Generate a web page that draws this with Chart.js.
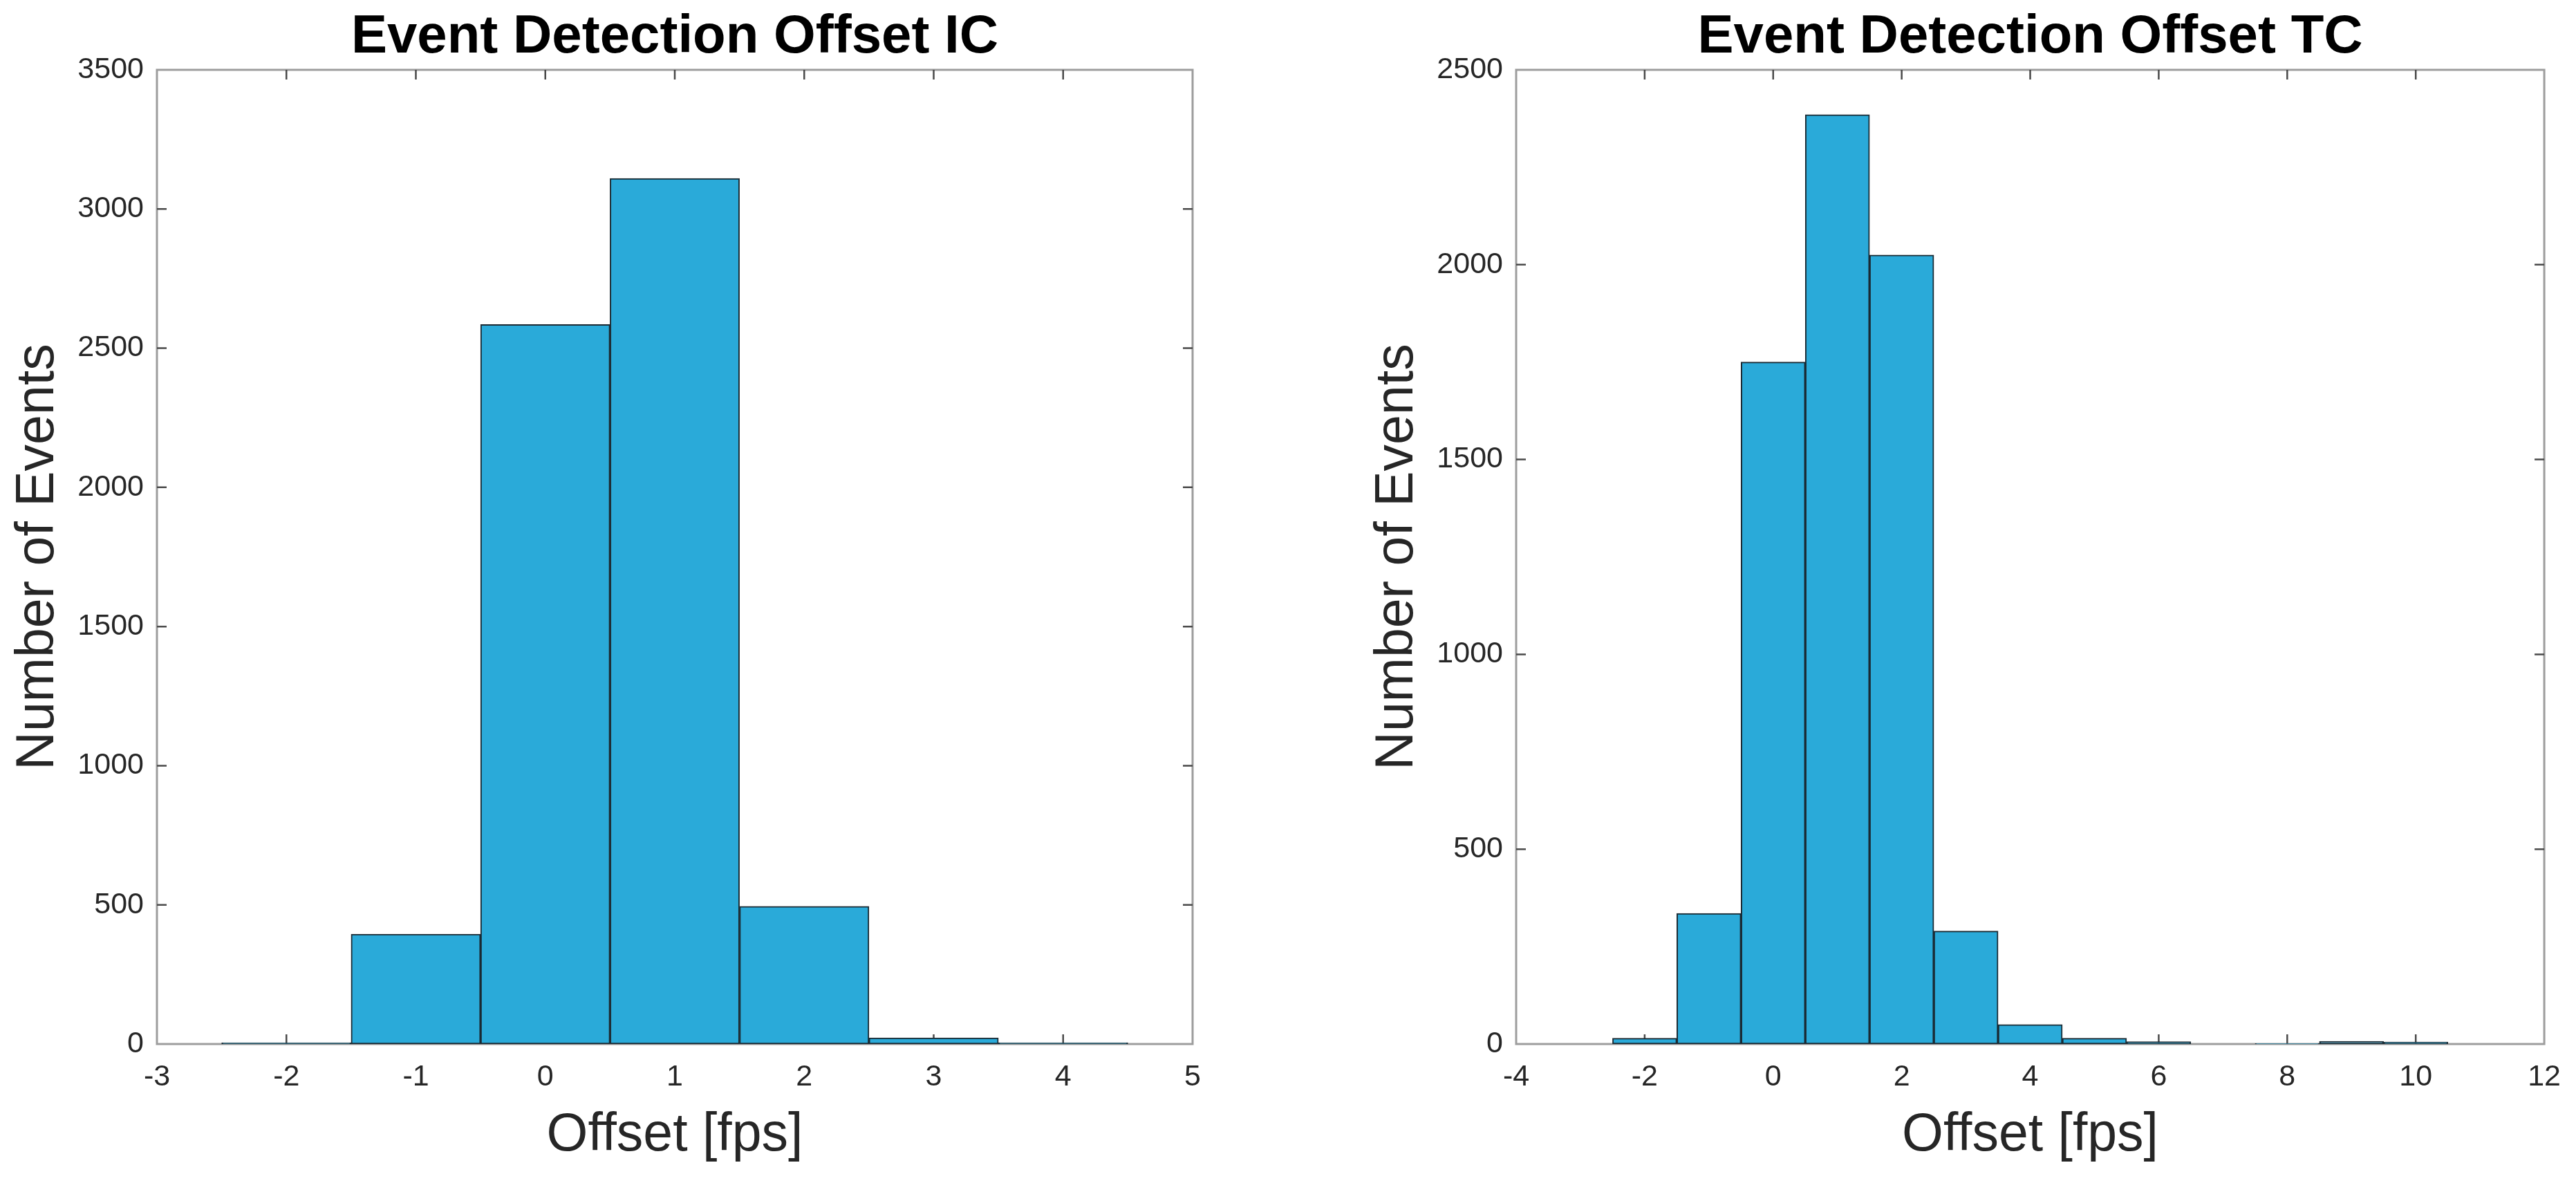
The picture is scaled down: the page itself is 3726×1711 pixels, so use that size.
<!DOCTYPE html>
<html>
<head>
<meta charset="utf-8">
<title>Event Detection Offset</title>
<script src="https://cdn.jsdelivr.net/npm/chart.js@4.4.1/dist/chart.umd.min.js"></script>
<style>
  html, body { margin: 0; padding: 0; background: #fff; }
  body { position: relative; width: 3726px; height: 1711px; overflow: hidden; }
  canvas { position: absolute; top: 0; }
  #chartIC { left: 0; }
  #chartTC { left: 1966px; }
</style>
</head>
<body>
<canvas id="chartIC" width="1760" height="1711"></canvas>
<canvas id="chartTC" width="1760" height="1711"></canvas>
<script>
// histogram bin centres (offset in frames) and counts
const icBins = [-2, -1, 0, 1, 2, 3, 4];
const icCounts = [5, 395, 2585, 3110, 495, 22, 5];

const tcBins = [-2, -1, 0, 1, 2, 3, 4, 5, 6, 7, 8, 9, 10];
const tcCounts = [15, 335, 1750, 2385, 2025, 290, 50, 15, 6, 0, 1, 7, 5];

// axis limits / tick steps
const icX = [-3, 5, 1];
const icY = [0, 3500, 500];
const tcX = [-4, 12, 2];
const tcY = [0, 2500, 500];

const FONT = '"Liberation Sans", Arial, Helvetica, sans-serif';
const TXT = '#262626';

// MATLAB style box with inward ticks on all four sides
const boxPlugin = {
    id: 'matlabBox',
    beforeDatasetsDraw(chart) {
        const { ctx, chartArea: a, scales } = chart;
        const x = scales.x, y = scales.y;
        ctx.save();
        ctx.strokeStyle = '#9d9d9d';
        ctx.lineWidth = 3;
        ctx.strokeRect(a.left, a.top, a.right - a.left, a.bottom - a.top);

        ctx.strokeStyle = '#4a4a4a';
        ctx.lineWidth = 2.5;
        ctx.beginPath();
        x.ticks.slice(1, -1).forEach(t => {
            const px = x.getPixelForValue(t.value);
            ctx.moveTo(px, a.bottom); ctx.lineTo(px, a.bottom - 14);
            ctx.moveTo(px, a.top); ctx.lineTo(px, a.top + 14);
        });
        y.ticks.slice(1, -1).forEach(t => {
            const py = y.getPixelForValue(t.value);
            ctx.moveTo(a.left, py); ctx.lineTo(a.left + 14, py);
            ctx.moveTo(a.right, py); ctx.lineTo(a.right - 14, py);
        });
        ctx.stroke();
        ctx.restore();
    }
};

function makeHist(id, title, bins, counts, xr, yr, padRight) {
    const points = bins.map((b, i) => ({ x: b, y: counts[i] }));
    return new Chart(document.getElementById(id), {
        type: 'bar',
        data: {
            datasets: [{
                data: points,
                backgroundColor: '#2aaad9',
                borderColor: '#1a2a33',
                borderWidth: 2,
                borderSkipped: false,
                barPercentage: 1,
                categoryPercentage: 1
            }]
        },
        options: {
            responsive: false,
            animation: false,
            devicePixelRatio: 1,
            layout: { padding: { left: 0, right: padRight, top: 0, bottom: 0 } },
            plugins: {
                legend: { display: false },
                tooltip: { enabled: false },
                title: { display: false }
            },
            scales: {
                x: {
                    type: 'linear',
                    position: 'bottom',
                    min: xr[0], max: xr[1],
                    offset: false,
                    grid: { display: false, drawTicks: false, offset: false },
                    border: { display: false },
                    ticks: {
                        stepSize: xr[2],
                        padding: 22,
                        color: TXT,
                        font: { family: FONT, size: 43 },
                        maxRotation: 0,
                        callback: v => String(v)
                    },
                    title: {
                        display: true,
                        text: 'Offset [fps]',
                        color: TXT,
                        font: { family: FONT, size: 77 },
                        padding: { top: 0, bottom: 22 }
                    },
                    afterFit: s => { s.height = 201; }
                },
                xTop: {
                    type: 'linear',
                    position: 'top',
                    min: xr[0], max: xr[1],
                    offset: false,
                    grid: { display: false, drawTicks: false },
                    border: { display: false },
                    ticks: { display: false },
                    title: {
                        display: true,
                        text: title,
                        color: '#000',
                        font: { family: FONT, size: 78, weight: 'bold' },
                        padding: { top: 8, bottom: 0 }
                    },
                    afterFit: s => { s.height = 101; }
                },
                y: {
                    type: 'linear',
                    min: yr[0], max: yr[1],
                    grid: { display: false, drawTicks: false },
                    border: { display: false },
                    ticks: {
                        stepSize: yr[2],
                        padding: 19,
                        color: TXT,
                        font: { family: FONT, size: 43 },
                        callback: v => String(v)
                    },
                    title: {
                        display: true,
                        text: 'Number of Events',
                        color: TXT,
                        font: { family: FONT, size: 77 },
                        padding: { top: 10, bottom: 0 }
                    },
                    afterFit: s => { s.width = 227; }
                }
            }
        },
        plugins: [boxPlugin]
    });
}

makeHist('chartIC', 'Event Detection Offset IC', icBins, icCounts, icX, icY, 35);
makeHist('chartTC', 'Event Detection Offset TC', tcBins, tcCounts, tcX, tcY, 24);
</script>
</body>
</html>
